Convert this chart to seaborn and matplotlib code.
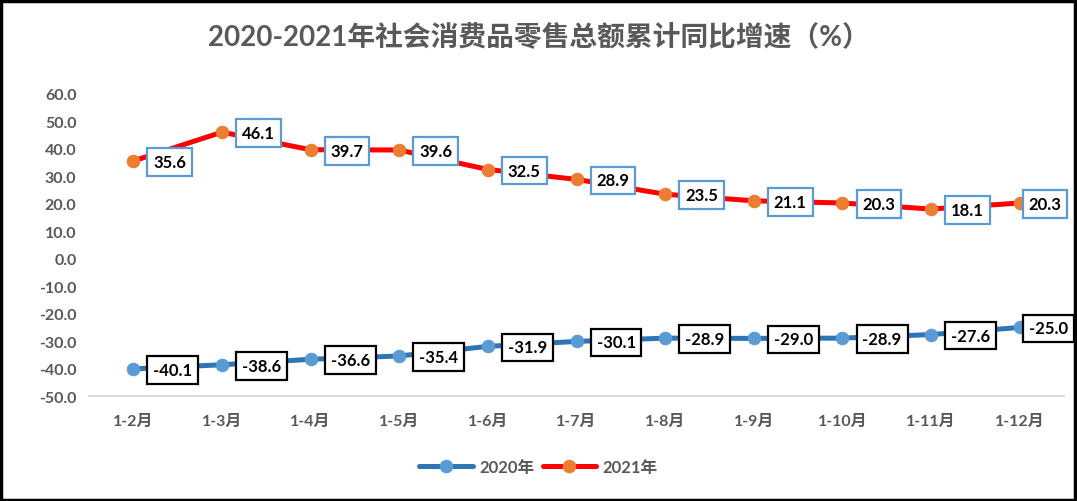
import pandas as pd
import matplotlib.pyplot as plt
import seaborn as sns
from matplotlib.patches import Rectangle

# Data
months = ['1-2月', '1-3月', '1-4月', '1-5月', '1-6月', '1-7月',
          '1-8月', '1-9月', '1-10月', '1-11月', '1-12月']
y2020 = [-40.1, -38.6, -36.6, -35.4, -31.9, -30.1, -28.9, -29.0, -28.9, -27.6, -25.0]
y2021 = [35.6, 46.1, 39.7, 39.6, 32.5, 28.9, 23.5, 21.1, 20.3, 18.1, 20.3]

sns.set_style('white')
plt.rcParams['font.family'] = ['Lato', 'Noto Sans CJK SC', 'DejaVu Sans']

df = pd.DataFrame({'月份': months * 2,
                   '增速': y2020 + y2021,
                   '年份': ['2020年'] * len(months) + ['2021年'] * len(months)})
df['pos'] = list(range(len(months))) * 2

fig = plt.figure(figsize=(10.77, 5.02), dpi=100)
ax = fig.add_axes([0.0826, 0.209, 0.9054, 0.6018])

styles = {'2020年': ('#2E75B6', '#5B9BD5', 'black'),
          '2021年': ('#FF0000', '#ED7D31', '#5B9BD5')}

for year, (lc, mc, bc) in styles.items():
    sub = df[df['年份'] == year]
    sns.lineplot(data=sub, x='pos', y='增速', ax=ax, color=lc, linewidth=3.6,
                 marker='o', markersize=9, markerfacecolor=mc, markeredgecolor=mc,
                 label=year)
    for x, y in zip(sub['pos'], sub['增速']):
        # last label is pushed left so it stays inside the chart
        dx = 9 if x == len(months) - 1 else 20
        ax.annotate(f'{y:.1f}', (x, y), xytext=(dx, -1), textcoords='offset pixels',
                    ha='left', va='center', fontsize=12, fontweight='bold',
                    color='black', annotation_clip=False,
                    bbox=dict(boxstyle='square,pad=0.35', fc='white', ec=bc, lw=1.6))

ax.set_xlim(-0.5, len(months) - 0.5)
ax.set_ylim(-50, 60)
ax.set_yticks(range(-50, 61, 10))
ax.set_yticklabels([f'{v:.1f}' for v in range(-50, 61, 10)])
ax.set_xticks(range(len(months)))
ax.set_xticklabels(months)
ax.set_xlabel('')
ax.set_ylabel('')
for lab in ax.get_xticklabels() + ax.get_yticklabels():
    lab.set_fontweight('bold')
    lab.set_color('#595959')
    lab.set_fontsize(11.5)
ax.tick_params(axis='x', length=0, pad=13)
ax.tick_params(axis='y', length=0, pad=9)
for s in ['top', 'right', 'left']:
    ax.spines[s].set_visible(False)
ax.spines['bottom'].set_color('#D9D9D9')
ax.spines['bottom'].set_linewidth(1.3)

ax.get_legend().remove()
handles, labels = ax.get_legend_handles_labels()
leg = fig.legend(handles, labels, loc='center', bbox_to_anchor=(0.50, 0.068),
                 ncol=2, frameon=False, handlelength=3.2, columnspacing=0.5,
                 handletextpad=0.4, prop={'weight': 'bold', 'size': 12})
for t in leg.get_texts():
    t.set_color('#595959')

fig.text(0.5, 0.925, '2020-2021年社会消费品零售总额累计同比增速（%）',
         ha='center', va='center', fontsize=20, fontweight='bold', color='#595959')

fig.patches.append(Rectangle((0.001, 0.002), 0.997, 0.995, transform=fig.transFigure,
                             fill=False, ec='black', lw=2.5))

fig.savefig('out.png', dpi=100)
